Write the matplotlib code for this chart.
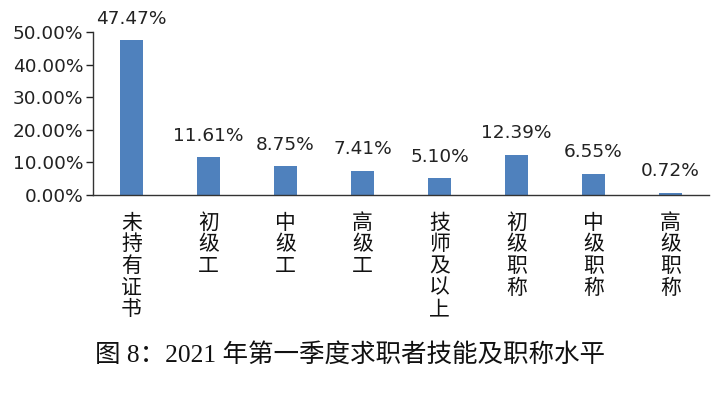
import matplotlib
matplotlib.use("Agg")
import matplotlib.pyplot as plt
from matplotlib.ticker import FuncFormatter

# 数据
categories = ["未持有证书", "初级工", "中级工", "高级工", "技师及以上", "初级职称", "中级职称", "高级职称"]
values = [47.47, 11.61, 8.75, 7.41, 5.10, 12.39, 6.55, 0.72]
caption = "图 8：2021 年第一季度求职者技能及职称水平"

bar_color = "#4F81BD"

fig = plt.figure(figsize=(7.28, 3.99), dpi=100)
ax = fig.add_axes([0.1277, 0.5113, 0.8463, 0.4085])

x = list(range(len(categories)))
ax.bar(x, values, width=0.3, color=bar_color)
ax.set_xlim(-0.5, len(categories) - 0.5)
ax.set_ylim(0, 50)
ax.set_yticks([0, 10, 20, 30, 40, 50])
ax.yaxis.set_major_formatter(FuncFormatter(lambda v, p: f"{v:.2f}%"))
ax.tick_params(axis="y", labelsize=13.3, length=5, width=1, colors="#222222", pad=2)
ax.tick_params(axis="x", length=0)
ax.set_xticks(x)
ax.set_xticklabels([])

for s in ["top", "right"]:
    ax.spines[s].set_visible(False)
for s in ["left", "bottom"]:
    ax.spines[s].set_color("#333333")
    ax.spines[s].set_linewidth(1)

# 数值标签
for xi, v in zip(x, values):
    ax.annotate(f"{v:.2f}%", (xi, v), xytext=(0, 9), textcoords="offset points",
                ha="center", va="bottom", fontsize=13.3, color="#222222")

# 竖排类别标签
for xi, c in zip(x, categories):
    ax.annotate("\n".join(c), (xi, 0), xytext=(0, -12), textcoords="offset points",
                ha="center", va="top", fontsize=15, linespacing=0.98,
                family=["Noto Sans CJK SC", "DejaVu Sans"], color="#111111")

fig.text(0.13, 0.11, caption, ha="left", va="center", fontsize=18.4,
         family=["Liberation Serif", "Noto Sans CJK SC"], color="#111111")

fig.savefig("out.png", dpi=100)
